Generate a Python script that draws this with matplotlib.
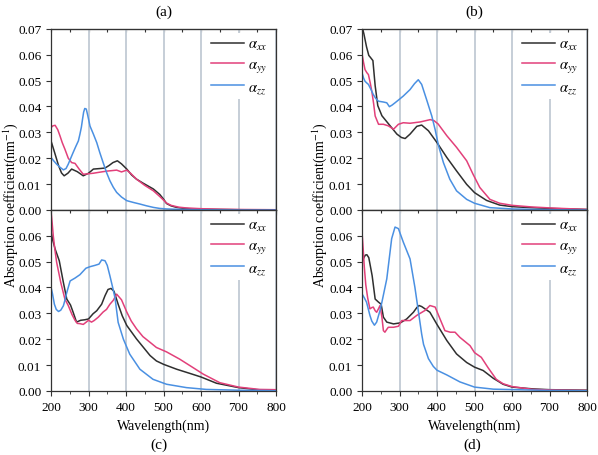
import matplotlib.pyplot as plt
from matplotlib.ticker import MultipleLocator

plt.rcParams["font.family"] = ["Liberation Serif", "DejaVu Serif"]
plt.rcParams["mathtext.fontset"] = "stix"
plt.rcParams["font.size"] = 9.5

# ---- data: (a) ----
a_xx_wl = [200, 210, 220, 228, 235, 245, 255, 270, 286, 300, 313, 330, 344, 355, 365, 377, 388, 402, 415, 428, 445, 473, 490, 500, 508, 520, 535, 550, 575, 600, 650, 700, 800]
a_xx = [0.0267, 0.022, 0.0172, 0.0143, 0.0132, 0.0142, 0.0158, 0.0148, 0.0132, 0.0142, 0.0158, 0.016, 0.0162, 0.0172, 0.0183, 0.019, 0.0178, 0.0158, 0.0135, 0.0119, 0.0104, 0.0081, 0.006, 0.0042, 0.0025, 0.0016, 0.0010, 0.0007, 0.0004, 0.0003, 0.0002, 0.0001, 0.0]
a_yy_wl = [200, 205, 211, 218, 224, 230, 237, 246, 255, 264, 275, 286, 300, 313, 330, 348, 362, 375, 388, 402, 412, 428, 450, 473, 490, 508, 520, 540, 560, 600, 650, 700, 800]
a_yy = [0.0318, 0.0325, 0.0327, 0.031, 0.0286, 0.026, 0.0235, 0.02, 0.0183, 0.018, 0.0158, 0.0138, 0.014, 0.0142, 0.0146, 0.015, 0.0152, 0.0154, 0.0147, 0.0154, 0.0142, 0.0119, 0.0095, 0.0074, 0.0052, 0.0027, 0.0018, 0.0011, 0.0008, 0.0005, 0.0003, 0.0002, 0.0001]
a_zz_wl = [200, 207, 215, 224, 233, 240, 246, 252, 259, 266, 273, 277, 281, 284, 287, 290, 294, 298, 304, 313, 322, 330, 339, 348, 357, 366, 375, 388, 402, 420, 437, 455, 473, 490, 508, 550, 600, 700, 800]
a_zz = [0.0203, 0.019, 0.0177, 0.0165, 0.0155, 0.016, 0.0177, 0.0198, 0.0222, 0.0245, 0.0267, 0.0292, 0.032, 0.035, 0.0378, 0.0392, 0.039, 0.0365, 0.0324, 0.0293, 0.026, 0.0222, 0.0183, 0.0145, 0.0113, 0.0088, 0.0068, 0.005, 0.0036, 0.0029, 0.0023, 0.0016, 0.001, 0.0006, 0.0004, 0.0002, 0.0001, 0.0, 0.0]

# ---- data: (b) ----
b_xx_wl = [200, 205, 212, 218, 222, 229, 235, 242, 253, 271, 293, 305, 315, 328, 346, 359, 377, 400, 426, 452, 479, 500, 532, 567, 600, 650, 700, 800]
b_xx = [0.071, 0.068, 0.063, 0.0597, 0.059, 0.0577, 0.048, 0.0403, 0.0364, 0.0332, 0.0293, 0.028, 0.0276, 0.0293, 0.0323, 0.0328, 0.0306, 0.026, 0.0203, 0.0151, 0.0099, 0.0067, 0.0037, 0.0019, 0.0013, 0.0009, 0.0006, 0.0002]
b_yy_wl = [200, 204, 208, 213, 217, 222, 226, 231, 235, 244, 257, 270, 284, 297, 310, 328, 355, 382, 392, 403, 426, 452, 479, 496, 514, 541, 567, 600, 650, 700, 800]
b_yy = [0.0603, 0.057, 0.0542, 0.053, 0.0523, 0.049, 0.0459, 0.041, 0.0363, 0.0331, 0.0331, 0.0325, 0.0312, 0.0331, 0.0337, 0.0335, 0.034, 0.0349, 0.0345, 0.0332, 0.0287, 0.0242, 0.019, 0.0138, 0.0087, 0.0041, 0.0026, 0.0018, 0.0012, 0.0008, 0.0002]
b_zz_wl = [200, 204, 208, 213, 217, 224, 230, 237, 244, 257, 266, 273, 280, 288, 300, 310, 328, 340, 350, 359, 372, 386, 395, 404, 417, 434, 452, 479, 500, 541, 600, 700, 800]
b_zz = [0.053, 0.051, 0.0497, 0.049, 0.0485, 0.0465, 0.0446, 0.043, 0.042, 0.0417, 0.0414, 0.0399, 0.0405, 0.0414, 0.0428, 0.044, 0.0465, 0.0488, 0.0503, 0.0485, 0.0427, 0.0363, 0.031, 0.0248, 0.0183, 0.0119, 0.0074, 0.0041, 0.0026, 0.0009, 0.0004, 0.0001, 0.0]

# ---- data: (c) ----
c_xx_wl = [200, 205, 211, 222, 233, 242, 252, 259, 268, 279, 290, 300, 312, 322, 335, 344, 352, 360, 368, 379, 390, 402, 428, 464, 481, 500, 535, 570, 600, 641, 700, 748, 800]
c_xx = [0.0619, 0.058, 0.0548, 0.0503, 0.0419, 0.0355, 0.0332, 0.0304, 0.0266, 0.0273, 0.0275, 0.0278, 0.0298, 0.031, 0.0335, 0.0368, 0.0392, 0.0396, 0.0385, 0.0335, 0.029, 0.0253, 0.0201, 0.0137, 0.0116, 0.0103, 0.0084, 0.0068, 0.0054, 0.003, 0.0013, 0.0005, 0.0003]
c_yy_wl = [200, 203, 206, 210, 215, 226, 237, 246, 256, 264, 270, 277, 286, 294, 300, 308, 315, 326, 339, 348, 357, 366, 375, 388, 402, 414, 428, 445, 464, 481, 508, 543, 579, 606, 650, 700, 756, 800]
c_yy = [0.0697, 0.065, 0.06, 0.055, 0.0497, 0.0419, 0.0355, 0.033, 0.0295, 0.0273, 0.0261, 0.026, 0.0257, 0.0266, 0.0273, 0.0266, 0.0272, 0.0285, 0.0305, 0.0315, 0.0335, 0.035, 0.0374, 0.0352, 0.0305, 0.027, 0.024, 0.021, 0.0188, 0.0168, 0.0151, 0.0123, 0.009, 0.0065, 0.0032, 0.0015, 0.0006, 0.0005]
c_zz_wl = [200, 204, 209, 214, 220, 226, 233, 237, 242, 251, 264, 277, 293, 304, 317, 328, 335, 344, 350, 357, 366, 371, 379, 393, 410, 437, 472, 508, 561, 614, 700, 800]
c_zz = [0.0401, 0.0375, 0.0335, 0.0315, 0.0307, 0.0312, 0.0329, 0.035, 0.038, 0.0425, 0.0436, 0.0449, 0.0474, 0.048, 0.0485, 0.049, 0.0506, 0.0503, 0.0485, 0.0445, 0.039, 0.0356, 0.0265, 0.02, 0.0142, 0.0084, 0.0045, 0.0026, 0.0013, 0.0006, 0.0003, 0.0001]

# ---- data: (d) ----
d_xx_wl = [200, 205, 209, 213, 218, 227, 235, 244, 251, 257, 266, 284, 302, 319, 337, 346, 352, 359, 381, 399, 426, 452, 479, 500, 523, 550, 576, 600, 656, 700, 800]
d_xx = [0.0497, 0.0515, 0.0525, 0.0526, 0.0515, 0.0445, 0.0355, 0.0343, 0.0335, 0.0285, 0.0266, 0.0259, 0.0263, 0.0278, 0.0304, 0.0322, 0.033, 0.0326, 0.0304, 0.0259, 0.0195, 0.0143, 0.011, 0.0092, 0.0079, 0.0049, 0.0026, 0.0015, 0.0008, 0.0005, 0.0003]
d_yy_wl = [200, 203, 206, 210, 215, 221, 226, 230, 235, 239, 244, 248, 253, 257, 261, 266, 270, 284, 297, 306, 328, 346, 368, 381, 395, 408, 421, 435, 448, 461, 488, 500, 518, 536, 558, 576, 600, 656, 700, 800]
d_yy = [0.0613, 0.055, 0.048, 0.041, 0.036, 0.0317, 0.0322, 0.0324, 0.031, 0.0304, 0.0318, 0.033, 0.0285, 0.0233, 0.0227, 0.0238, 0.0246, 0.0246, 0.025, 0.0272, 0.0272, 0.0292, 0.0311, 0.033, 0.0324, 0.0278, 0.0233, 0.0227, 0.0227, 0.0207, 0.0175, 0.0148, 0.013, 0.009, 0.0045, 0.0028, 0.0017, 0.0006, 0.0004, 0.0002]
d_zz_wl = [200, 206, 212, 221, 226, 233, 239, 248, 253, 266, 279, 288, 297, 310, 328, 341, 350, 359, 364, 377, 390, 400, 426, 461, 500, 550, 700, 800]
d_zz = [0.0375, 0.036, 0.0343, 0.0292, 0.027, 0.0254, 0.0266, 0.0311, 0.0343, 0.0433, 0.0588, 0.0633, 0.0627, 0.0575, 0.051, 0.040, 0.031, 0.022, 0.018, 0.0125, 0.0095, 0.008, 0.0062, 0.0035, 0.0015, 0.0007, 0.0002, 0.0001]

labels = [r"$\alpha_{xx}$", r"$\alpha_{yy}$", r"$\alpha_{zz}$"]
colors = ["#2f2f2f", "#e2407a", "#4a90e2"]

panels = [
    ("a", [(a_xx_wl, a_xx), (a_yy_wl, a_yy), (a_zz_wl, a_zz)]),
    ("b", [(b_xx_wl, b_xx), (b_yy_wl, b_yy), (b_zz_wl, b_zz)]),
    ("c", [(c_xx_wl, c_xx), (c_yy_wl, c_yy), (c_zz_wl, c_zz)]),
    ("d", [(d_xx_wl, d_xx), (d_yy_wl, d_yy), (d_zz_wl, d_zz)]),
]

fig = plt.figure(figsize=(5.98, 4.56), dpi=100)

# axes positions in figure fraction
lefts = {"a": 0.0853, "b": 0.6054, "c": 0.0853, "d": 0.6054}
bottoms = {"a": 0.5373, "b": 0.5373, "c": 0.1404, "d": 0.1404}
w, h = 0.3763, 0.3975

for name, series in panels:
    ax = fig.add_axes([lefts[name], bottoms[name], w, h])
    for (wl, vals), lab, col in zip(series, labels, colors):
        ax.plot(wl, vals, color=col, lw=1.1, label=lab)

    ax.set_xlim(200, 800)
    ax.set_ylim(0, 0.07)
    ax.xaxis.set_major_locator(MultipleLocator(100))
    ax.xaxis.set_minor_locator(MultipleLocator(50))
    ax.set_axisbelow(True)
    ax.grid(axis="x", color="#c6ced7", lw=1.4)

    for sp in ax.spines.values():
        sp.set_color("#333333")
        sp.set_linewidth(0.9)

    ax.tick_params(axis="both", which="both", direction="out", color="#333333")
    ax.tick_params(axis="both", which="major", length=3.5)
    ax.tick_params(axis="x", which="minor", length=2)

    # inward ticks on the top spine
    top = ax.secondary_xaxis("top")
    top.xaxis.set_major_locator(MultipleLocator(50))
    top.tick_params(direction="in", length=2.5, labeltop=False, color="#333333")

    if name in ("a", "b"):
        ax.set_yticks([0, 0.01, 0.02, 0.03, 0.04, 0.05, 0.06, 0.07])
        ax.tick_params(axis="x", labelbottom=False)
        ax.set_title("(" + name + ")", fontsize=11, pad=10)
    else:
        ax.set_yticks([0, 0.01, 0.02, 0.03, 0.04, 0.05, 0.06])
        ax.set_xlabel("Wavelength(nm)", fontsize=10, labelpad=4)
    ax.yaxis.set_major_formatter(plt.FormatStrFormatter("%.2f"))

    ax.legend(loc="upper right", fontsize=10.5, handlelength=2.3,
              handletextpad=0.25, labelspacing=0.4, borderpad=0.3,
              borderaxespad=0.3, frameon=True, fancybox=False,
              facecolor="white", edgecolor="none", framealpha=1)

# bottom titles
fig.text(0.265, 0.024, "(c)", ha="center", va="center", fontsize=11)
fig.text(0.79, 0.024, "(d)", ha="center", va="center", fontsize=11)

# shared y labels
fig.text(0.018, 0.55, "Absorption coefficient(nm$^{-1}$)", rotation=90,
         ha="center", va="center", fontsize=10)
fig.text(0.535, 0.55, "Absorption coefficient(nm$^{-1}$)", rotation=90,
         ha="center", va="center", fontsize=10)

fig.savefig("out.png", dpi=100)
